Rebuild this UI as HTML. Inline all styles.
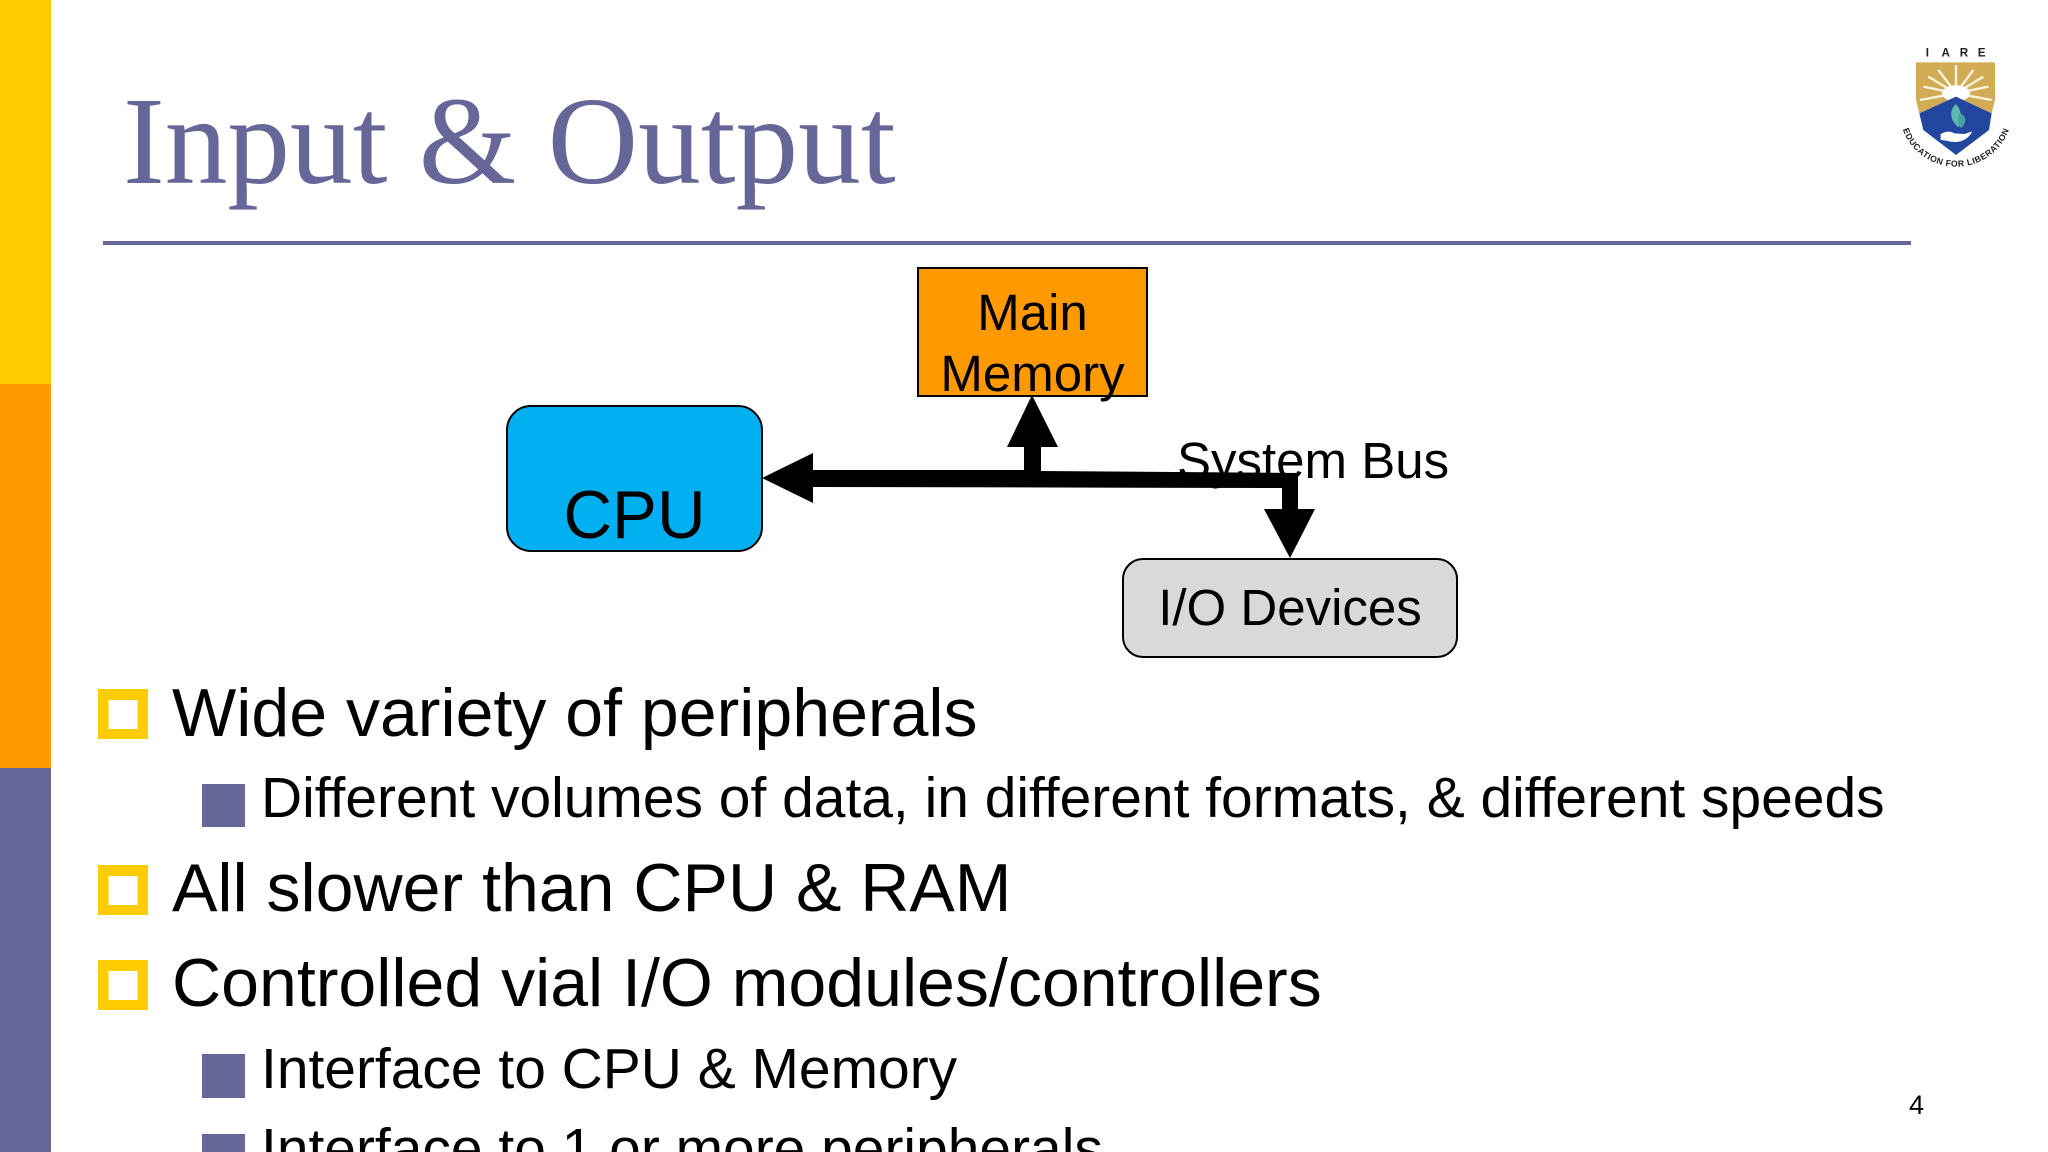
<!DOCTYPE html>
<html><head><meta charset="utf-8"><style>
html,body{margin:0;padding:0;background:#fff;width:2048px;height:1152px;overflow:hidden}
svg{display:block;font-family:"Liberation Sans",sans-serif}
</style></head><body>
<svg width="2048" height="1152" viewBox="0 0 2048 1152" xmlns="http://www.w3.org/2000/svg">
<rect width="2048" height="1152" fill="#fff"/>
<rect x="0" y="0" width="51" height="384" fill="#ffcc00"/>
<rect x="0" y="384" width="51" height="384" fill="#ff9900"/>
<rect x="0" y="768" width="51" height="384" fill="#666699"/>
<text x="123" y="183" font-family="Liberation Serif" font-size="125.300" fill="#666699">Input &amp; Output</text>
<rect x="103" y="241" width="1808" height="4" fill="#666699"/>

<rect x="918" y="268" width="229" height="128" fill="#ff9900" stroke="#000" stroke-width="2"/>
<text x="1032.500" y="330" font-size="51" text-anchor="middle">Main</text>
<text x="1032.500" y="391" font-size="51" text-anchor="middle">Memory</text>
<rect x="507" y="406" width="255" height="145" rx="24" fill="#00b0f0" stroke="#000" stroke-width="2"/>
<text x="634.500" y="538" font-size="67.300" text-anchor="middle">CPU</text>
<rect x="1123" y="559" width="334" height="98" rx="20" fill="#d9d9d9" stroke="#000" stroke-width="2"/>
<text x="1290" y="625" font-size="51" text-anchor="middle">I/O Devices</text>
<text x="1177" y="478" font-size="51">System Bus</text>

<polygon points="762,478 813,453 813,470 1024,470 1024,447 1007,447 1032,395 1058,447 1041,447 1041,471 1298,473 1298,509 1315,509 1290,558 1264,509 1282,509 1282,488 813,487 813,503" fill="#000"/>

<g fill="#ffcc00">
<path d="M98 689h50v50h-50zM108.500 700v29h29v-29z" fill-rule="evenodd"/>
<path d="M98 865h50v50h-50zM108.500 876v29h29v-29z" fill-rule="evenodd"/>
<path d="M98 960h50v50h-50zM108.500 971v29h29v-29z" fill-rule="evenodd"/>
</g>
<g fill="#666699">
<rect x="202" y="784" width="43" height="43"/>
<rect x="202" y="1054" width="43" height="44"/>
<rect x="202" y="1134" width="43" height="44"/>
</g>
<g font-size="68.050" fill="#000">
<text x="172" y="736">Wide variety of peripherals</text>
<text x="172" y="911">All slower than CPU &amp; RAM</text>
<text x="172" y="1006">Controlled vial I/O modules/controllers</text>
</g>
<g font-size="56.950" fill="#000">
<text x="261" y="817">Different volumes of data, in different formats, &amp; different speeds</text>
<text x="261" y="1088">Interface to CPU &amp; Memory</text>
<text x="261" y="1168">Interface to 1 or more peripherals</text>
</g>
<text x="1909" y="1114" font-size="27" fill="#000">4</text>

<!-- logo -->
<g transform="translate(1880 30) scale(.3333)">
<g font-size="35" font-weight="bold" text-anchor="middle" fill="#222"><text x="142" y="80">I</text><text x="197" y="80">A</text><text x="252" y="80">R</text><text x="305" y="80">E</text></g>
<polygon points="108,97 345,97 345,210 335,250 228,200 118,250 108,210" fill="#d2ab55"/>
<g stroke="#fff8e6" stroke-width="7" opacity=".95">
<line x1="228" y1="190" x2="228" y2="105"/><line x1="228" y1="190" x2="175" y2="120"/><line x1="228" y1="190" x2="280" y2="120"/>
<line x1="228" y1="190" x2="130" y2="170"/><line x1="228" y1="190" x2="325" y2="170"/><line x1="228" y1="190" x2="145" y2="140"/><line x1="228" y1="190" x2="310" y2="140"/><line x1="228" y1="190" x2="120" y2="210"/><line x1="228" y1="190" x2="335" y2="210"/>
</g>
<ellipse cx="228" cy="190" rx="42" ry="24" fill="#fff"/>
<polygon points="228,200 335,250 327,300 228,375 130,300 118,250" fill="#23479f"/>
<path d="M228 222c-22 20-18 50 8 70 10-25 10-50-8-70z" fill="#5cb8b0"/>
<path d="M238 250c20 5 25 25 5 45-10-15-12-30-5-45z" fill="#4aa39c"/>
<path d="M182 312c20-10 30-8 42-2l30 2 22-8c-5 15-25 32-50 32-18 0-30-6-44-6z" fill="#fff"/>
<path id="arc" d="M60 247 A 168 163 0 0 0 396 247" fill="none"/>
<text font-size="26" font-weight="bold" fill="#222" letter-spacing="1.500"><textPath href="#arc" startOffset="50%" text-anchor="middle">EDUCATION FOR LIBERATION</textPath></text>
</g>
</svg>
</body></html>
